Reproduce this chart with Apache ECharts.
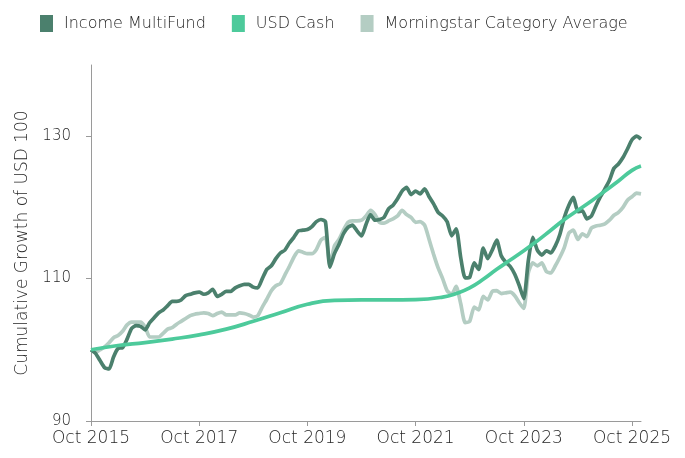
<!DOCTYPE html>
<html>
<head>
<meta charset="utf-8">
<script src="https://cdn.jsdelivr.net/npm/echarts@6/dist/echarts.min.js"></script>
<style>
  html, body { margin: 0; padding: 0; background: #fff; }
  #chart { width: 685px; height: 458px; }
</style>
</head>
<body>
<div id="chart"></div>
<script>
// monthly points, month 0 = Oct 2015
var fundValues = [
  100.0, 99.5, 98.5, 97.5, 97.3, 99.0, 100.2, 100.3, 101.5, 103.0,
  103.4, 103.3, 102.8, 103.8, 104.5, 105.2, 105.6, 106.2, 106.8, 106.8,
  107.0, 107.6, 107.8, 108.0, 108.1, 107.8, 108.0, 108.5, 107.5, 107.8,
  108.2, 108.2, 108.7, 109.0, 109.2, 109.2, 108.8, 108.7, 110.0, 111.3,
  111.8, 112.8, 113.6, 114.0, 115.0, 115.8, 116.7, 116.8, 116.9, 117.3,
  118.0, 118.3, 118.0, 111.6, 113.5, 114.8, 116.3, 117.2, 117.5, 116.7,
  116.0, 117.6, 119.0, 118.2, 118.3, 118.6, 119.8, 120.3, 121.2, 122.3,
  122.8, 121.8, 122.3, 121.9, 122.6, 121.5, 120.5, 119.3, 118.8, 118.0,
  116.0, 117.0, 113.0, 110.1, 110.2, 112.2, 111.3, 114.3, 112.8, 114.0,
  115.4, 113.2, 112.3, 111.7, 110.6, 109.0, 107.2, 112.5, 115.8, 114.0,
  113.3, 113.9, 113.6, 114.6, 116.2, 118.6, 120.3, 121.4, 119.4, 119.5,
  118.4, 118.8, 120.2, 121.5, 122.6, 123.8, 125.5, 126.1, 127.0, 128.2,
  129.5, 130.0, 129.6
];
var categoryValues = [
  100.0, 99.6, 100.0, 100.4, 101.0, 101.7, 102.0, 102.6, 103.5, 103.9,
  103.9, 103.9, 103.2, 101.8, 101.8, 101.8, 102.3, 102.9, 103.1, 103.6,
  104.0, 104.4, 104.8, 105.0, 105.1, 105.2, 105.1, 104.8, 105.1, 105.3,
  104.9, 104.9, 104.9, 105.2, 105.1, 104.9, 104.6, 104.8, 106.0, 107.1,
  108.3, 109.0, 109.3, 110.5, 111.7, 113.0, 113.9, 113.7, 113.5, 113.5,
  114.1, 115.4, 115.8, 112.0, 114.6, 115.5, 116.8, 117.9, 118.1, 118.1,
  118.2, 118.8, 119.6, 119.0, 117.9, 117.8, 118.1, 118.4, 118.8, 119.6,
  119.0, 118.6, 117.9, 118.0, 117.5, 115.5, 113.4, 111.5, 110.0, 108.3,
  107.8, 108.9, 106.5, 103.8, 104.0, 106.0, 105.6, 107.5, 107.0, 108.2,
  108.3, 107.9, 108.0, 108.1, 107.6, 106.6, 105.8, 110.8, 112.2, 111.8,
  112.2, 111.0, 110.8, 111.8, 113.0, 114.4, 116.4, 116.8, 115.5, 116.3,
  115.9, 117.1, 117.4, 117.5, 117.7, 118.2, 118.9, 119.3, 120.0, 121.0,
  121.5, 122.0, 121.9
];
// quarterly cash points
var cashMonths = [0, 6, 12, 18, 24, 30, 36, 42, 48, 54, 60, 66, 72, 78, 81, 84, 87,
  90, 93, 96, 99, 102, 105, 108, 111, 114, 117, 120, 122];
var cashValues = [100.0, 100.6, 101.0, 101.5, 102.1, 102.9, 104.0, 105.2, 106.4, 106.95, 107.0, 107.0, 107.05, 107.4, 107.9, 108.7, 109.9,
  111.3, 112.6, 113.9, 115.3, 116.8, 118.3, 119.6, 120.9, 122.3, 123.7, 125.2, 125.8];

var xTicks = [0, 24, 48, 72, 96, 120];
var yTicks = [90, 110, 130];
var seriesNames = ["Income MultiFund", "USD Cash", "Morningstar Category Average"];

function toPairs(vals) {
  return vals.map(function (v, i) { return [i, v]; });
}
function monthLabel(m) {
  return "Oct " + (2015 + Math.round(m / 12));
}

var chart = echarts.init(document.getElementById("chart"));
var textColor = "#262626";
var font = "DejaVu Sans";

chart.setOption({
  animation: false,
  color: ["#4b806d", "#4dca9b", "#b4cdc3"],
  legend: {
    left: 35,
    top: 10,
    icon: "rect",
    itemWidth: 13,
    itemHeight: 17,
    itemGap: 26,
    textStyle: { color: textColor, fontSize: 16, fontFamily: font, fontWeight: 200, padding: [0, 0, 0, 6] },
    data: seriesNames
  },
  grid: { left: 91, right: 44, top: 65, bottom: 37, containLabel: false },
  xAxis: {
    type: "value",
    min: 0,
    max: 122,
    axisLine: { lineStyle: { color: "#9a9a9a", width: 1 } },
    axisTick: { show: true, length: 5, customValues: xTicks, lineStyle: { color: "#9a9a9a" } },
    axisLabel: {
      customValues: xTicks,
      formatter: monthLabel,
      color: textColor,
      fontSize: 17,
      fontFamily: font,
      fontWeight: 200,
      margin: 9
    },
    splitLine: { show: false }
  },
  yAxis: {
    type: "value",
    min: 90,
    max: 140,
    name: "Cumulative Growth of USD 100",
    nameLocation: "middle",
    nameRotate: 90,
    nameGap: 56,
    nameTextStyle: { color: textColor, fontSize: 17, fontFamily: font, fontWeight: 200 },
    axisLine: { show: true, lineStyle: { color: "#9a9a9a", width: 1 } },
    axisTick: { show: true, length: 5, customValues: yTicks, lineStyle: { color: "#9a9a9a" } },
    axisLabel: {
      customValues: yTicks,
      color: textColor,
      fontSize: 15,
      fontFamily: font,
      fontWeight: 200,
      margin: 20
    },
    splitLine: { show: false }
  },
  series: [
    {
      name: seriesNames[0],
      type: "line",
      showSymbol: false,
      smooth: 0.2,
      z: 3,
      lineStyle: { width: 3.7 },
      data: toPairs(fundValues)
    },
    {
      name: seriesNames[1],
      type: "line",
      showSymbol: false,
      smooth: true,
      z: 4,
      lineStyle: { width: 3.7 },
      data: cashMonths.map(function (m, i) { return [m, cashValues[i]]; })
    },
    {
      name: seriesNames[2],
      type: "line",
      showSymbol: false,
      smooth: 0.2,
      z: 2,
      lineStyle: { width: 3.7 },
      data: toPairs(categoryValues)
    }
  ]
});
</script>
</body>
</html>
